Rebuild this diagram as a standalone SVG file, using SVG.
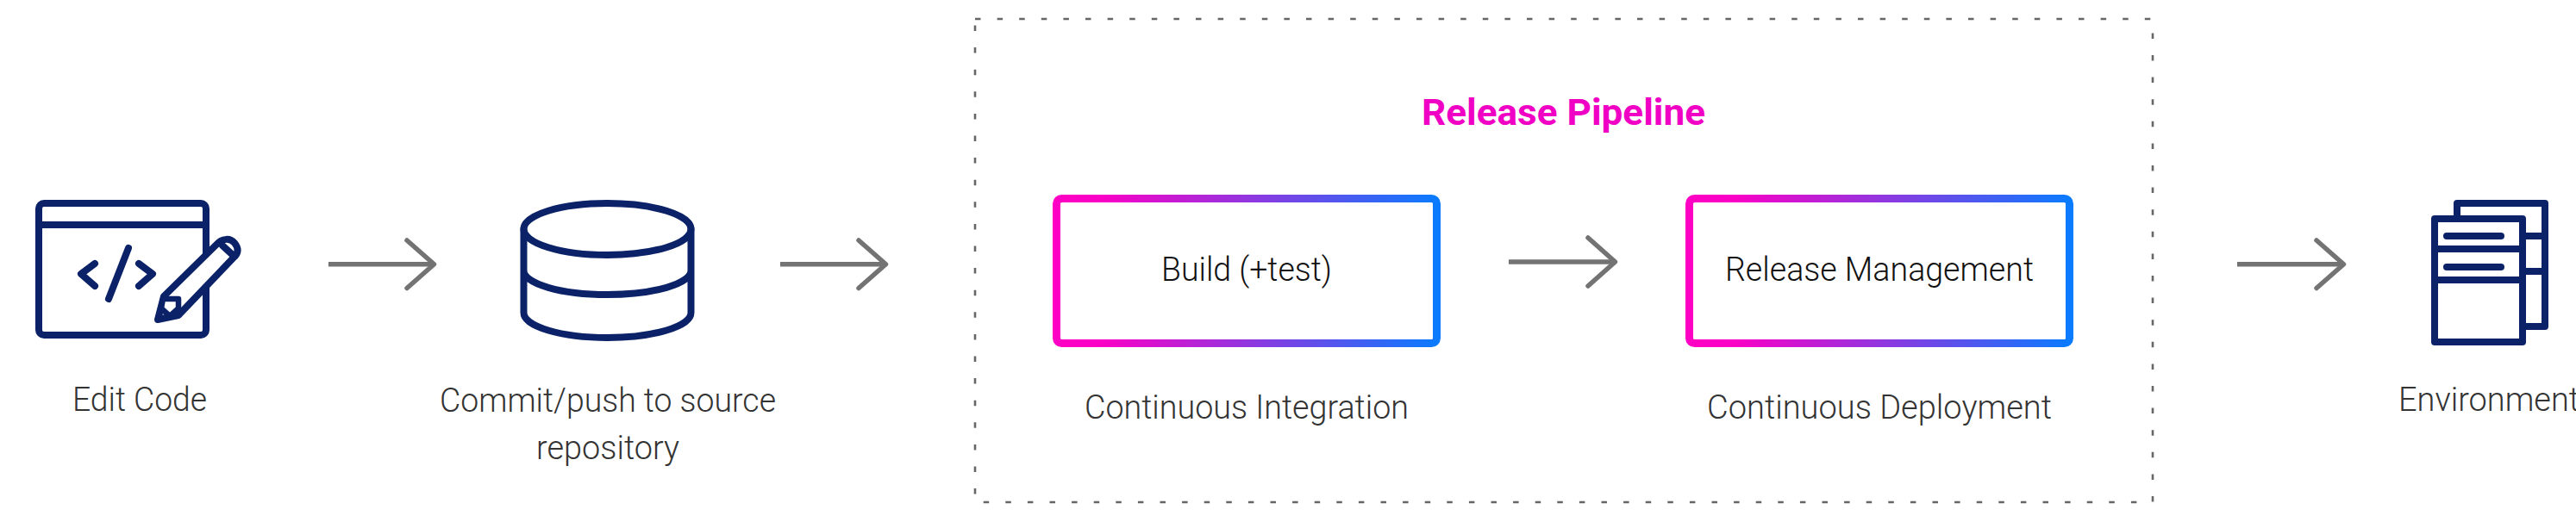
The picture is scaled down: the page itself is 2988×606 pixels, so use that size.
<svg xmlns="http://www.w3.org/2000/svg" width="2988" height="606" viewBox="0 0 2988 606">
<defs>
<linearGradient id="grad" x1="0" y1="0" x2="1" y2="0"><stop offset="0" stop-color="#ff00c4"/><stop offset="0.12" stop-color="#fa00c6"/><stop offset="1" stop-color="#0a7bff"/></linearGradient>
</defs>
<style>
.bg{fill:#fff}
.icon{fill:none;stroke:#0b2268;stroke-width:8;stroke-linecap:round;stroke-linejoin:round}
.thin{stroke-width:6.5}
.white{fill:#fff}
.arrow{fill:none;stroke:#737373;stroke-width:5.5;stroke-linecap:round;stroke-linejoin:round}
.shaft{stroke-linecap:butt}
.box{fill:#fff;stroke:url(#grad);stroke-width:9}
.lbl{font-family:"Roboto","Liberation Sans",sans-serif;font-weight:300;font-size:38px;fill:#333}
.inner{fill:#111}
.title{font-family:"Roboto","Liberation Sans",sans-serif;font-weight:700;font-size:43px;fill:#f000c4}
.frame{fill:none;stroke:#666;stroke-width:2.6;stroke-dasharray:6.5 19.1}
</style>
<rect class="bg" width="2988" height="606"/>
<g id="pipeline-frame"><rect class="frame" x="1131" y="22" width="1366" height="561"/><text class="title" x="1649" y="145" textLength="329" lengthAdjust="spacingAndGlyphs">Release Pipeline</text></g>
<g id="edit-code">
<rect class="icon" x="45" y="236" width="194" height="153" rx="6"/>
<path class="icon" d="M45 261H239M110 306L94 318L110 332M161 306L177 318L161 332M149 288L126 347"/>
<path class="icon white" d="M183 371L190 344L253 282C258 277 267 276 272 282C277 288 277 294 271 299L207 366Z"/>
<path class="icon" d="M258 285L271 297"/>
<path class="icon white thin" d="M189 347H207V358L197 367L187 358Z"/>
<text class="lbl" x="84" y="477" textLength="156" lengthAdjust="spacingAndGlyphs">Edit Code</text>
</g>
<g id="source-repo">
<ellipse class="icon" cx="704.500" cy="266" rx="97" ry="30"/>
<path class="icon" d="M607.500 266V363A97 29 0 0 0 801.500 363V266M607.500 314A97 28 0 0 0 801.500 314"/>
<text class="lbl" x="510" y="478" textLength="390" lengthAdjust="spacingAndGlyphs">Commit/push to source</text>
<text class="lbl" x="622" y="533" textLength="166" lengthAdjust="spacingAndGlyphs">repository</text>
</g>
<g id="build">
<rect class="box" x="1225.500" y="230.500" width="441" height="168" rx="6"/>
<text class="lbl inner" x="1347" y="326" textLength="198" lengthAdjust="spacingAndGlyphs">Build (+test)</text>
<text class="lbl" x="1258" y="486" textLength="376" lengthAdjust="spacingAndGlyphs">Continuous Integration</text>
</g>
<g id="release-management">
<rect class="box" x="1959.500" y="230.500" width="441" height="168" rx="6"/>
<text class="lbl inner" x="2001" y="326" textLength="358" lengthAdjust="spacingAndGlyphs">Release Management</text>
<text class="lbl" x="1980" y="486" textLength="400" lengthAdjust="spacingAndGlyphs">Continuous Deployment</text>
</g>
<g id="environment">
<path class="icon" d="M2850 250V236H2952V379H2930M2930 274H2952M2930 315H2952"/>
<rect class="icon" x="2824" y="254" width="102" height="143"/>
<path class="icon" d="M2824 289H2926M2824 325H2926M2838 274H2901M2838 310H2901"/>
<text class="lbl" x="2782" y="477" textLength="210" lengthAdjust="spacingAndGlyphs">Environment</text>
</g>
<g id="connectors">
<path class="arrow shaft" d="M381 306.700H502"/><path class="arrow" d="M472 279L503.500 306.700L472 334.500"/>
<path class="arrow shaft" d="M905 306.700H1026"/><path class="arrow" d="M996 279L1027.500 306.700L996 334.500"/>
<path class="arrow shaft" d="M1750 304H1872"/><path class="arrow" d="M1842 276L1873.500 304L1842 332"/>
<path class="arrow shaft" d="M2595 306.700H2717"/><path class="arrow" d="M2687 279L2718.500 306.700L2687 334.500"/>
</g>
</svg>
